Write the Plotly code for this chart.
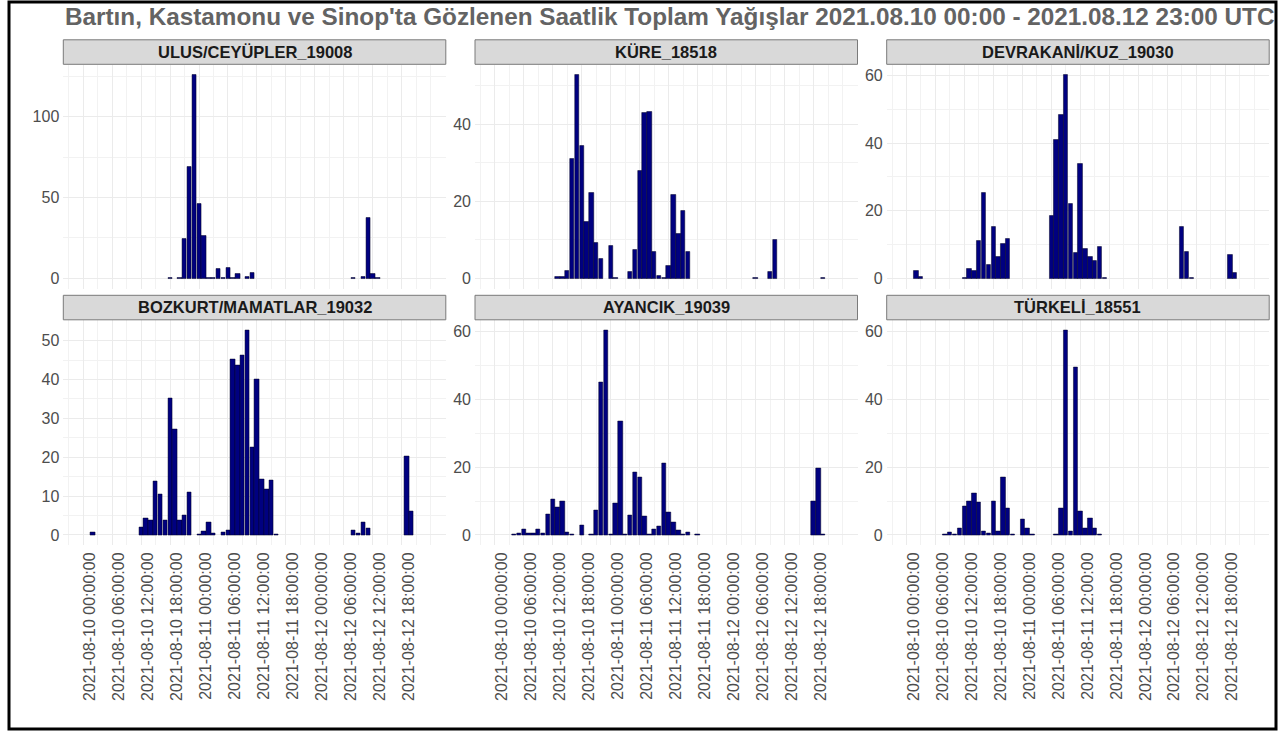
import pandas as pd
import plotly.graph_objects as go

# Hourly observation times (UTC)
times = pd.date_range("2021-08-10 00:00", "2021-08-12 23:00", freq="h")

stations = ["ULUS/CEYÜPLER_19008", "KÜRE_18518", "DEVRAKANİ/KUZ_19030",
            "BOZKURT/MAMATLAR_19032", "AYANCIK_19039", "TÜRKELİ_18551"]

N = None
# Hourly precipitation totals (mm), one value per hour, None = no record
ulus = [N, N, N, N, N, N, N, N, N, N, N, N,
        N, N, N, N, N, N, 0.4, N, 0.3, 24.5, 69.0, 125.8,
        46.4, 26.4, 0.3, 0.5, 5.6, 0.3, 6.8, 0.5, 2.5, N, 1.0, 3.7,
        N, N, N, N, N, N, N, N, N, N, N, N,
        N, N, N, N, N, N, N, N, 0.2, N, 1.2, 37.7,
        2.5, 0.5, N, N, N, N, N, N, N, N, N, N]
kure = [N, N, N, N, N, N, N, N, N, N, N, N,
        N, 0.4, 0.5, 1.9, 31.1, 52.8, 34.5, 14.7, 22.3, 9.2, 5.1, N,
        8.4, 0.2, N, N, 1.6, 7.5, 27.9, 43.0, 43.2, 6.9, 0.6, 0.2,
        3.3, 21.8, 11.5, 17.6, 7.0, N, N, N, N, N, N, N,
        N, N, N, N, N, N, 0.1, N, N, 1.7, 10.0, N,
        N, N, N, N, N, N, N, N, 0.1, N, N, N]
devrakani = [N, N, 2.1, 0.5, N, N, N, N, N, N, N, N,
             0.3, 2.7, 2.3, 11.0, 25.2, 4.0, 15.3, 6.4, 10.3, 11.7, N, N,
             N, N, N, N, N, N, 18.6, 40.9, 48.3, 60.2, 22.2, 7.6,
             33.9, 8.7, 6.4, 5.1, 9.4, 0.1, N, N, N, N, N, N,
             N, N, N, N, N, N, N, N, N, 15.3, 8.0, 0.3,
             N, N, N, N, N, N, N, 7.1, 1.5, N, N, N]
bozkurt = [N, N, 0.7, N, N, N, N, N, N, N, N, N,
           1.9, 4.4, 3.9, 13.8, 10.4, 3.9, 35.2, 27.2, 3.9, 5.0, 11.1, N,
           0.1, 1.0, 3.2, 0.5, N, 0.6, 1.3, 45.2, 43.6, 46.2, 52.6, 22.6,
           40.1, 14.2, 11.8, 14.0, 0.1, N, N, N, N, N, N, N,
           N, N, N, N, N, N, N, N, 1.2, 0.4, 3.2, 1.8,
           N, N, N, N, N, N, N, 20.2, 6.2, N, N, N]
ayancik = [N, N, N, N, 0.3, 0.6, 1.8, 0.5, 0.5, 1.7, 0.6, 6.1,
           10.6, 8.1, 9.8, 0.8, 0.1, N, 2.8, N, 0.3, 7.2, 45.1, 60.2,
           0.3, 9.2, 33.4, 0.3, 5.7, 18.6, 17.1, 5.4, 0.1, 1.6, 2.7, 21.0,
           6.6, 3.7, 1.4, 0.1, 0.8, N, 0.1, N, N, N, N, N,
           N, N, N, N, N, N, N, N, N, N, N, N,
           N, N, N, N, N, N, 10.0, 19.6, 0.3, N, N, N]
turkeli = [N, N, N, N, N, N, N, N, 0.3, 0.8, 0.2, 2.0,
           8.6, 10.0, 12.2, 9.7, 1.0, 0.6, 10.0, 1.0, 17.0, 7.8, 0.1, N,
           4.6, 1.9, 0.1, N, N, N, N, 0.3, 8.0, 60.4, 1.2, 49.5,
           6.9, 1.9, 4.9, 1.9, 0.1, N, N, N, N, N, N, N,
           N, N, N, N, N, N, N, N, N, N, N, N,
           N, N, N, N, N, N, N, N, N, N, N, N]

series = [ulus, kure, devrakani, bozkurt, ayancik, turkeli]
y_steps = [50, 20, 20, 10, 20, 20]

# Six-hourly break labels
break_times = pd.date_range("2021-08-10 00:00", "2021-08-12 18:00", freq="6h")
break_text = [t.strftime("%Y-%m-%d %H:%M:%S") for t in break_times]

title_text = ("Bartın, Kastamonu ve Sinop'ta Gözlenen Saatlik Toplam Yağışlar "
              "2021.08.10 00:00 - 2021.08.12 23:00 UTC")

W, H = 1281, 731
FONT = "Liberation Sans, Arial, sans-serif"
HOUR_MS = 3600 * 1000

# x limits: bar extent plus 5% padding on each side
lo = times[0] - pd.Timedelta(minutes=30)
hi = times[-1] + pd.Timedelta(minutes=30)
pad = (hi - lo) * 0.05
x_range = [lo - pad, hi + pad]

# panel boxes in pixels
cols_px = [(63.3, 445.8), (475.0, 857.5), (886.7, 1269.2)]
rows_px = [(64.8, 288.5), (320.3, 545.2)]
STRIP_H = 25


def px_x(v):
    return v / W


def px_y(v):
    return 1 - v / H


fig = go.Figure()
shapes = []
annotations = []

for i, (name, vals) in enumerate(zip(stations, series)):
    r, c = divmod(i, 3)
    k = "" if i == 0 else str(i + 1)
    x0, x1 = cols_px[c]
    top, bot = rows_px[r]

    fig.add_trace(go.Bar(
        x=times, y=vals, width=0.9 * HOUR_MS,
        marker=dict(color="#000080", line=dict(color="#000022", width=0.5)),
        xaxis="x" + k, yaxis="y" + k, showlegend=False,
    ))

    vmax = max(v for v in vals if v is not None)
    step = y_steps[i]

    fig.update_layout({
        "xaxis" + k: dict(
            domain=[px_x(x0), px_x(x1)], anchor="y" + k, range=x_range,
            type="date", tickmode="array", tickvals=break_times,
            ticktext=break_text, tickangle=-90, showticklabels=(r == 1),
            ticklabelshift=7, ticklabelstandoff=3,
            tickfont=dict(family=FONT, size=16, color="#4d4d4d"),
            showgrid=True, gridcolor="#ebebeb", gridwidth=1,
            minor=dict(dtick=3 * HOUR_MS, tick0="2021-08-10 00:00",
                       showgrid=True, gridcolor="#f2f2f2", gridwidth=0.7),
            zeroline=False, showline=False, ticks="", fixedrange=True,
        ),
        "yaxis" + k: dict(
            domain=[px_y(bot), px_y(top)], anchor="x" + k,
            range=[-0.05 * vmax, 1.05 * vmax],
            tickmode="linear", tick0=0, dtick=step,
            tickfont=dict(family=FONT, size=16, color="#4d4d4d"),
            ticklabelstandoff=3,
            showgrid=True, gridcolor="#ebebeb", gridwidth=1,
            minor=dict(dtick=step / 2, tick0=0, showgrid=True,
                       gridcolor="#f2f2f2", gridwidth=0.7),
            zeroline=False, showline=False, ticks="", fixedrange=True,
        ),
    })

    # facet strip
    shapes.append(dict(type="rect", xref="paper", yref="paper",
                       x0=px_x(x0), x1=px_x(x1),
                       y0=px_y(top - 0.5), y1=px_y(top - STRIP_H),
                       fillcolor="#d9d9d9", line=dict(color="#7a7a7a", width=1),
                       layer="above"))
    annotations.append(dict(text="<b>" + name + "</b>", xref="paper", yref="paper",
                            x=px_x((x0 + x1) / 2), y=px_y(top - STRIP_H / 2 - 0.5),
                            xanchor="center", yanchor="middle", showarrow=False,
                            font=dict(family=FONT, size=16.5, color="#1a1a1a")))

# outer frame
shapes.append(dict(type="rect", xref="paper", yref="paper",
                   x0=px_x(9), x1=px_x(1276), y0=px_y(729), y1=px_y(2),
                   line=dict(color="black", width=3), fillcolor="rgba(0,0,0,0)",
                   layer="above"))

annotations.append(dict(text="<b>" + title_text + "</b>", xref="paper", yref="paper",
                        x=px_x(63), y=px_y(16), xanchor="left", yanchor="middle",
                        showarrow=False,
                        font=dict(family=FONT, size=24.3, color="#636363")))

fig.update_layout(
    width=W, height=H,
    margin=dict(l=0, r=0, t=0, b=0),
    paper_bgcolor="white", plot_bgcolor="white",
    bargap=0, barmode="overlay",
    shapes=shapes, annotations=annotations,
    font=dict(family=FONT),
)

fig.write_html("out.html")
